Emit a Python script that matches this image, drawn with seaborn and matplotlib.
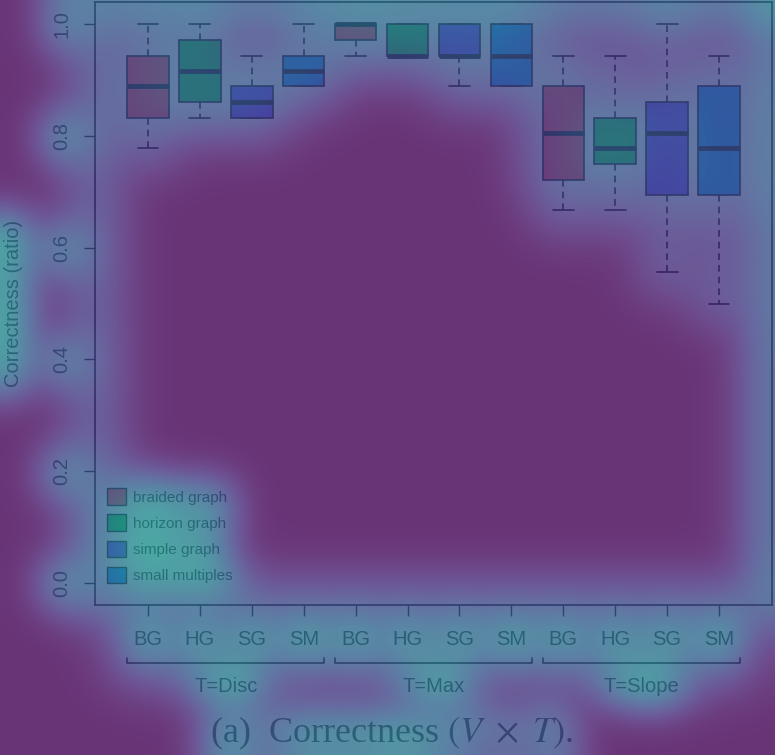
import itertools

import matplotlib
matplotlib.use("Agg")
import matplotlib.pyplot as plt
import matplotlib.text as mtext
import matplotlib.transforms as mtransforms
import numpy as np
import pandas as pd
import seaborn as sns
from matplotlib.patches import Patch

tasks = ["T=Disc", "T=Max", "T=Slope"]
techniques = ["BG", "HG", "SG", "SM"]
technique_names = ["braided graph", "horizon graph", "simple graph", "small multiples"]

# five-number summaries, one entry per task x technique
whisker_low = [0.778, 0.833, 0.833, 0.889, 0.944, 0.944, 0.889, 0.889, 0.667, 0.667, 0.556, 0.500]
lower_quartile = [0.833, 0.861, 0.833, 0.889, 0.972, 0.944, 0.944, 0.889, 0.722, 0.750, 0.694, 0.694]
median = [0.889, 0.917, 0.861, 0.917, 1.000, 0.944, 0.944, 0.944, 0.806, 0.778, 0.806, 0.778]
upper_quartile = [0.944, 0.972, 0.889, 0.944, 1.000, 1.000, 1.000, 1.000, 0.889, 0.833, 0.861, 0.889]
whisker_high = [1.000, 1.000, 0.944, 1.000, 1.000, 1.000, 1.000, 1.000, 0.944, 0.944, 1.000, 0.944]

box_colors = ["#ff4050", "#00d040", "#6040ff", "#0096ff"]

# five points per cell reproduce the summary exactly (quartiles at index 1, 2, 3)
cells = [f"{t}|{v}" for t, v in itertools.product(tasks, techniques)]
rows = []
for i, cell in enumerate(cells):
    stats = (whisker_low[i], lower_quartile[i], median[i], upper_quartile[i], whisker_high[i])
    for val in stats:
        rows.append({"cell": cell, "technique": cell.split("|")[1], "correctness": val})
df = pd.DataFrame(rows)

sns.set_style("white")
plt.rcParams["font.family"] = ["Liberation Sans", "DejaVu Sans"]
plt.rcParams["mathtext.fontset"] = "stix"

fig = plt.figure(figsize=(7.75, 7.55), dpi=100)
fig.patch.set_facecolor("white")
ax = fig.add_axes([95 / 775, 150 / 755, 677 / 775, 603 / 755])

sns.boxplot(
    data=df, x="cell", y="correctness", hue="technique",
    order=cells, hue_order=techniques, palette=box_colors,
    dodge=False, width=0.8, whis=(0, 100), showfliers=False,
    saturation=1, linecolor="black", linewidth=1.2, legend=False,
    medianprops={"linewidth": 3.5},
    whiskerprops={"linestyle": (0, (4, 3))},
    ax=ax,
)

ax.set_xlim(-1.02, 12.02)
ax.set_ylim(-0.04, 1.04)
ax.set_yticks(np.arange(0, 1.01, 0.2))
ax.set_yticklabels([f"{v:.1f}" for v in np.arange(0, 1.01, 0.2)])
ax.set_xticks(range(len(cells)))
ax.set_xticklabels([c.split("|")[1] for c in cells])
ax.tick_params(axis="both", which="major", direction="out", length=8, width=1,
               color="black", labelsize=14.5, left=True, bottom=True)
ax.tick_params(axis="y", labelrotation=90, pad=9)
ax.tick_params(axis="x", pad=10)
for lab in ax.get_yticklabels():
    lab.set_va("center")
for side in ["left", "right", "top", "bottom"]:
    ax.spines[side].set_color("black")
    ax.spines[side].set_linewidth(1.2)

ax.set_xlabel("")
ax.set_ylabel("Correctness (ratio)", fontsize=14.5)
ax.yaxis.set_label_coords(-0.106, 0.5)

# task brackets under the tick labels
trans = mtransforms.blended_transform_factory(ax.transData, ax.transAxes)
for g, task in enumerate(tasks):
    lo = g * len(techniques) - 0.4
    hi = (g + 1) * len(techniques) - 1 + 0.4
    ax.plot([lo, lo, hi, hi], [-0.088, -0.096, -0.096, -0.088], color="black",
            lw=1.2, transform=trans, clip_on=False)
    ax.text((lo + hi) / 2, -0.135, task, transform=trans, ha="center", va="center",
            fontsize=14.5)

handles = [Patch(facecolor=c, edgecolor="black", linewidth=1) for c in box_colors]
ax.legend(handles, technique_names, loc="lower left", bbox_to_anchor=(0.017, 0.036),
          frameon=False, fontsize=11, handlelength=1.3, handleheight=1.3,
          labelspacing=0.62, handletextpad=0.45, borderpad=0, borderaxespad=0)

fig.text(0.506, 22 / 755, r"(a)  Correctness $(V\ \times\ T)$.", family="Liberation Serif",
         fontsize=26, ha="center", va="center")


# attention-style overlay computed from the rendered chart itself
def blur(a, sigma):
    pad = int(3 * sigma)
    p = np.pad(a, pad, mode="reflect")
    h, w = p.shape
    ky = np.exp(-0.5 * (np.fft.fftfreq(h) * 2 * np.pi * sigma) ** 2)
    kx = np.exp(-0.5 * (np.fft.fftfreq(w) * 2 * np.pi * sigma) ** 2)
    out = np.real(np.fft.ifft2(np.fft.fft2(p) * ky[:, None] * kx[None, :]))
    out = np.clip(out[pad:-pad, pad:-pad], 0, None)
    return out / out.max()


def edge_map():
    fig.canvas.draw()
    img = np.asarray(fig.canvas.buffer_rgba())[..., :3].astype(float) / 255
    lum = img @ np.array([0.299, 0.587, 0.114])
    gy, gx = np.gradient(lum)
    return np.hypot(gx, gy)


edges_all = edge_map()
texts = [t for t in fig.findobj(mtext.Text) if t.get_visible()]
for t in texts:
    t.set_visible(False)
edges_graph = edge_map()
for t in texts:
    t.set_visible(True)
edges_text = np.clip(edges_all - edges_graph, 0, None)

heat_text = blur(edges_text, 20)
heat_graph = blur(edges_graph, 24)
level = np.clip(0.46 * heat_text ** 0.85 + 0.38 * heat_graph ** 0.7, 0, 0.55)
overlay = plt.cm.viridis(level)[..., :3]

ov = fig.add_axes([0, 0, 1, 1], zorder=10)
ov.imshow(overlay, alpha=0.8, aspect="auto", interpolation="nearest")
ov.set_axis_off()

fig.savefig("out.png", dpi=100)
